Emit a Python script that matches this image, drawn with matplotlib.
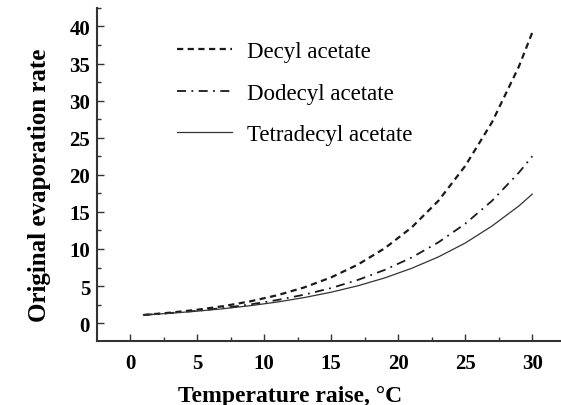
import matplotlib
matplotlib.use("Agg")
import matplotlib.pyplot as plt
from matplotlib.ticker import MultipleLocator


TEMP_RAISE = [1, 3, 5, 7, 9, 11, 13, 15, 17, 19, 21, 23, 25, 27, 29, 30]

DECYL = [1.1, 1.41, 1.80, 2.30, 2.95, 3.77, 4.82, 6.17, 7.90, 10.1,
         12.9, 16.5, 21.2, 27.1, 34.6, 39.2]
DODECYL = [1.1, 1.36, 1.67, 2.05, 2.53, 3.12, 3.84, 4.73, 5.83, 7.18,
           8.84, 10.9, 13.4, 16.5, 20.3, 22.5]
TETRADECYL = [1.1, 1.33, 1.61, 1.95, 2.36, 2.85, 3.45, 4.17, 5.04, 6.10,
              7.39, 8.93, 10.8, 13.1, 15.8, 17.4]

LABELS = ["Decyl acetate", "Dodecyl acetate", "Tetradecyl acetate"]

X_TICKS = [0, 5, 10, 15, 20, 25, 30]
Y_TICKS = [0, 5, 10, 15, 20, 25, 30, 35, 40]


def main():
    plt.rcParams["font.family"] = ["Liberation Serif", "DejaVu Serif"]

    fig = plt.figure(figsize=(5.61, 4.06), dpi=100)
    ax = fig.add_axes([0.173, 0.158, 0.827, 0.820])

    ax.plot(TEMP_RAISE, DECYL, color="#1a1a1a", lw=1.6,
            linestyle=(0, (2.8, 2)), label=LABELS[0])
    ax.plot(TEMP_RAISE, DODECYL, color="#1a1a1a", lw=1.3,
            linestyle=(0, (5, 3, 1, 3)), label=LABELS[1])
    ax.plot(TEMP_RAISE, TETRADECYL, color="#333333", lw=0.9,
            label=LABELS[2])

    ax.set_xlim(-2.46, 32.14)
    ax.set_ylim(-2.39, 42.5)
    ax.set_xticks(X_TICKS)
    ax.set_yticks(Y_TICKS)
    ax.xaxis.set_minor_locator(MultipleLocator(2.5))
    ax.yaxis.set_minor_locator(MultipleLocator(2.5))

    for side in ("top", "right"):
        ax.spines[side].set_visible(False)
    for side in ("left", "bottom"):
        ax.spines[side].set_linewidth(1.5)
        ax.spines[side].set_color("#333333")

    ax.tick_params(which="major", direction="in", length=5, width=1.0,
                   color="#333333", labelsize=15)
    ax.tick_params(which="minor", direction="in", length=3, width=1.0,
                   color="#333333")
    ax.tick_params(axis="x", which="major", pad=9)
    ax.tick_params(axis="y", which="major", pad=5)
    for lbl in ax.get_xticklabels() + ax.get_yticklabels():
        lbl.set_fontweight("bold")

    ax.set_xlabel("Temperature raise, °C", fontsize=17, fontweight="bold")
    ax.set_ylabel("Original evaporation rate", fontsize=18, fontweight="bold")
    ax.xaxis.set_label_coords(0.416, -0.132)
    ax.yaxis.set_label_coords(-0.10, 0.47)

    ax.legend(loc="upper left", bbox_to_anchor=(0.3155, 0.897),
              bbox_transform=fig.transFigure, frameon=False, fontsize=16.5,
              handlelength=2.4, handletextpad=0.65, labelspacing=0.9,
              borderpad=0, borderaxespad=0)

    fig.savefig("out.png", dpi=100)


if __name__ == "__main__":
    main()
